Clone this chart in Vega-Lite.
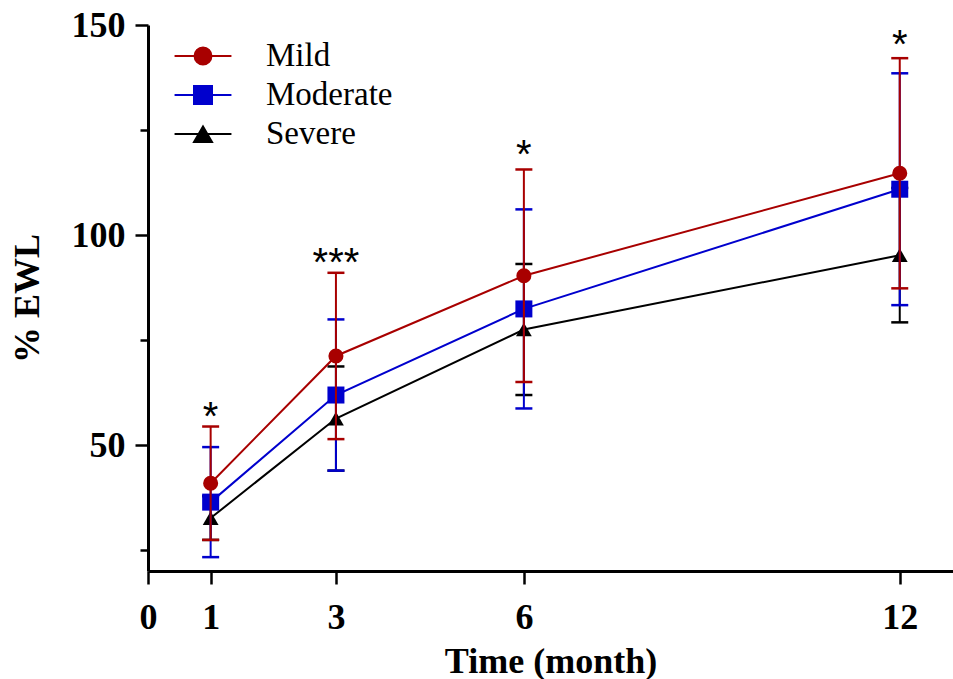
{
  "$schema": "https://vega.github.io/schema/vega-lite/v6.json",
  "width": 805,
  "height": 546,
  "autosize": "none",
  "padding": {"left": 148, "top": 25, "right": 0, "bottom": 108},
  "background": "white",
  "config": {
    "view": {"stroke": null},
    "axis": {
      "grid": false,
      "domainColor": "black",
      "domainWidth": 3,
      "tickColor": "black",
      "tickWidth": 2.5,
      "labelColor": "black",
      "titleColor": "black",
      "labelFont": "Liberation Serif",
      "labelFontWeight": "bold",
      "labelFontSize": 36,
      "titleFont": "Liberation Serif",
      "titleFontWeight": "bold",
      "titleFontSize": 36
    },
    "legend": {
      "labelFont": "Liberation Serif",
      "labelFontSize": 33,
      "labelColor": "black"
    }
  },
  "datasets": {
    "ewl": [
      {"series": "Severe", "time": 1, "mean": 32.6, "sd": 5.2},
      {"series": "Severe", "time": 3, "mean": 56.3, "sd": 12.4},
      {"series": "Severe", "time": 6, "mean": 77.5, "sd": 15.6},
      {"series": "Severe", "time": 12, "mean": 95.2, "sd": 16.0},
      {"series": "Moderate", "time": 1, "mean": 36.4, "sd": 13.1},
      {"series": "Moderate", "time": 3, "mean": 61.9, "sd": 18.0},
      {"series": "Moderate", "time": 6, "mean": 82.4, "sd": 23.7},
      {"series": "Moderate", "time": 12, "mean": 110.9, "sd": 27.6},
      {"series": "Mild", "time": 1, "mean": 40.9, "sd": 13.5},
      {"series": "Mild", "time": 3, "mean": 71.2, "sd": 19.8},
      {"series": "Mild", "time": 6, "mean": 90.3, "sd": 25.3},
      {"series": "Mild", "time": 12, "mean": 114.7, "sd": 27.4}
    ],
    "stars": [
      {"time": 1, "y": 58.8, "label": "*"},
      {"time": 3, "y": 95.5, "label": "***"},
      {"time": 6, "y": 121.2, "label": "*"},
      {"time": 12, "y": 147.4, "label": "*"}
    ]
  },
  "data": {"name": "ewl"},
  "encoding": {
    "x": {
      "field": "time",
      "type": "quantitative",
      "scale": {"domain": [0, 12.85], "nice": false, "zero": false},
      "axis": {
        "title": "Time (month)",
        "values": [0, 1, 3, 6, 12],
        "tickSize": 13,
        "labelPadding": 16,
        "titlePadding": 9,
        "labelFlush": false,
        "labelOverlap": false
      }
    },
    "y": {
      "field": "mean",
      "type": "quantitative",
      "scale": {"domain": [20, 150], "nice": false, "zero": false},
      "axis": {
        "title": "% EWL",
        "values": [25, 50, 75, 100, 125, 150],
        "labelExpr": "datum.value % 50 === 0 ? datum.label : ''",
        "tickSize": {"condition": {"test": "datum.value % 50 === 0", "value": 13}, "value": 8},
        "labelPadding": 10,
        "titlePadding": 25,
        "labelFlush": false,
        "labelOverlap": false
      }
    }
  },
  "layer": [
    {
      "transform": [{"filter": "datum.series === 'Severe'"}],
      "layer": [
        {"mark": {"type": "line", "color": "#000000", "strokeWidth": 2}},
        {"mark": {"type": "point", "shape": "triangle-up", "filled": true, "size": 250, "color": "#000000", "opacity": 1}},
        {"mark": {"type": "errorbar", "opacity": 1, "rule": {"strokeWidth": 2, "color": "#000000", "opacity": 1}, "ticks": {"size": 17, "thickness": 2.5, "color": "#000000", "opacity": 1}}, "encoding": {"yError": {"field": "sd"}}}
      ]
    },
    {
      "transform": [{"filter": "datum.series === 'Moderate'"}],
      "layer": [
        {"mark": {"type": "line", "color": "#0000cd", "strokeWidth": 2}},
        {"mark": {"type": "point", "shape": "square", "filled": true, "size": 289, "color": "#0000cd", "opacity": 1}},
        {"mark": {"type": "errorbar", "opacity": 1, "rule": {"strokeWidth": 2, "color": "#0000cd", "opacity": 1}, "ticks": {"size": 17, "thickness": 2.5, "color": "#0000cd", "opacity": 1}}, "encoding": {"yError": {"field": "sd"}}}
      ]
    },
    {
      "transform": [{"filter": "datum.series === 'Mild'"}],
      "layer": [
        {"mark": {"type": "line", "color": "#a80000", "strokeWidth": 2}},
        {"mark": {"type": "point", "shape": "circle", "filled": true, "size": 227, "color": "#a80000", "opacity": 1}},
        {"mark": {"type": "errorbar", "opacity": 1, "rule": {"strokeWidth": 2, "color": "#a80000", "opacity": 1}, "ticks": {"size": 17, "thickness": 2.5, "color": "#a80000", "opacity": 1}}, "encoding": {"yError": {"field": "sd"}}}
      ]
    },
    {
      "data": {"name": "stars"},
      "mark": {"type": "text", "font": "Liberation Sans", "fontSize": 40, "baseline": "middle", "dy": 10, "color": "black"},
      "encoding": {
        "y": {"field": "y", "type": "quantitative"},
        "text": {"field": "label"}
      }
    },
    {
      "transform": [{"filter": "false"}],
      "mark": {"type": "point", "filled": true, "opacity": 1},
      "encoding": {
        "color": {
          "field": "series",
          "type": "nominal",
          "scale": {"domain": ["Mild", "Moderate", "Severe"], "range": ["#a80000", "#0000cd", "#000000"]},
          "legend": {
            "title": null,
            "orient": "none",
            "legendX": 36,
            "legendY": 12,
            "padding": 0,
            "rowPadding": 3,
            "symbolSize": 1296,
            "symbolStrokeWidth": 2,
            "symbolOpacity": 1,
            "labelFont": "Liberation Serif",
            "labelFontSize": 33,
            "labelColor": "black",
            "labelOffset": 44,
            "encode": {
              "symbols": {"update": {"stroke": {"scale": "color", "field": "value"}}}
            }
          }
        },
        "shape": {
          "field": "series",
          "type": "nominal",
          "scale": {
            "domain": ["Mild", "Moderate", "Severe"],
            "range": [
              "M -1.58 0 L 1.58 0 M 0.47 0 A 0.47 0.47 0 1 1 -0.47 0 A 0.47 0.47 0 1 1 0.47 0 Z",
              "M -1.58 0 L 1.58 0 M -0.5 -0.5 L 0.5 -0.5 L 0.5 0.5 L -0.5 0.5 Z",
              "M -1.58 0 L 1.58 0 M 0 -0.42 L 0.5 0.45 L -0.5 0.45 Z"
            ]
          },
          "legend": {
            "title": null,
            "labelFont": "Liberation Serif",
            "labelFontSize": 33,
            "labelColor": "black",
            "labelOffset": 44,
            "rowPadding": 3
          }
        }
      }
    }
  ]
}
